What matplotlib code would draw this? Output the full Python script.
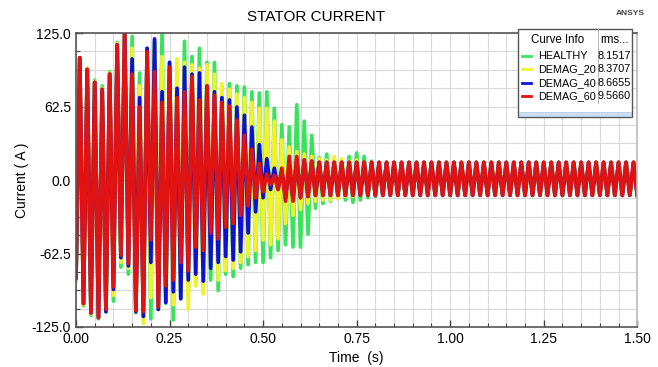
import numpy as np
import matplotlib.pyplot as plt
from matplotlib.patches import Rectangle
from matplotlib.lines import Line2D

plt.rcParams['font.family'] = ['Liberation Sans', 'DejaVu Sans']

# 50 Hz supply -> one peak every half cycle
half_period = 0.01

names = ['HEALTHY', 'DEMAG_20', 'DEMAG_40', 'DEMAG_60']
rms_vals = ['8.1517', '8.3707', '8.6655', '9.5660']
colors = ['#3be35c', '#f2f22c', '#0b12d4', '#e11212']

# positive peaks at t = 0.01, 0.03, ... 0.79
healthy_hi = [104, 95, 85, 80, 92, 117, 124, 122, 91, 112, 118, 126, 100, 88, 118, 105,
              112, 100, 100, 79, 82, 80, 79, 75, 74, 75, 61, 47, 45, 64, 50, 38,
              19, 22, 18, 15, 20, 23, 20, 16]
demag20_hi = [104, 95, 84, 78, 91, 116, 125, 112, 80, 110, 115, 105, 98, 103, 100, 98,
              95, 98, 90, 82, 77, 73, 70, 66, 61, 61, 50, 34, 28, 24, 22, 20,
              18, 17, 20, 18, 16, 17, 15, 15]
demag40_hi = [104, 94, 83, 77, 90, 115, 126, 103, 70, 112, 120, 75, 100, 78, 96, 90,
              91, 80, 75, 70, 68, 62, 55, 45, 30, 18, 10, 8, 12, 18, 17, 16,
              15, 15, 15, 15, 15, 15, 15, 15]
demag60_hi = [104, 94, 83, 77, 90, 115, 125, 90, 62, 109, 92, 66, 96, 70, 75, 88,
              68, 80, 72, 66, 63, 51, 38, 26, 14, 5, 4, 10, 20, 20, 17, 16,
              15, 15, 15, 15, 15, 15, 15, 15]

# negative peaks at t = 0.00, 0.02, ... 0.80
healthy_lo = [-85, -107, -115, -118, -112, -103, -74, -80, -113, -116, -118, -110, -105, -119, -100, -95,
              -87, -90, -85, -94, -80, -82, -75, -72, -70, -70, -66, -60, -55, -57, -57, -46,
              -24, -20, -18, -15, -17, -19, -17, -15, -14]
demag20_lo = [-84, -106, -114, -117, -111, -98, -70, -75, -112, -122, -100, -109, -100, -106, -98, -110,
              -90, -97, -70, -85, -77, -75, -70, -65, -60, -51, -55, -50, -37, -30, -25, -20,
              -18, -17, -17, -16, -14, -14, -13, -13, -13]
demag40_lo = [-83, -105, -113, -117, -112, -93, -66, -73, -112, -116, -70, -110, -104, -95, -101, -85,
              -80, -86, -75, -70, -65, -68, -61, -45, -27, -15, -8, -8, -15, -17, -15, -14,
              -13, -13, -13, -13, -13, -13, -13, -13, -13]
demag60_lo = [-83, -105, -113, -117, -110, -91, -64, -71, -111, -112, -51, -108, -90, -85, -70, -77,
              -57, -60, -45, -50, -40, -37, -30, -22, -15, -10, -4, -8, -18, -18, -15, -14,
              -13, -13, -13, -13, -13, -13, -13, -13, -13]

# steady state after 0.8 s, same for all four curves
steady_hi = 15
steady_lo = -13

series_hi = [healthy_hi, demag20_hi, demag40_hi, demag60_hi]
series_lo = [healthy_lo, demag20_lo, demag40_lo, demag60_lo]


def peaks_to_line(hi, lo):
    n_tail = 35
    hi_all = hi + [steady_hi] * n_tail
    lo_all = lo + [steady_lo] * n_tail
    t_lo = np.arange(len(lo_all)) * 2 * half_period
    t_hi = half_period + np.arange(len(hi_all)) * 2 * half_period
    t = np.concatenate([t_lo, t_hi])
    y = np.concatenate([lo_all, hi_all])
    order = np.argsort(t)
    return t[order], y[order]


fig = plt.figure(figsize=(6.58, 3.67), dpi=100)
ax = fig.add_axes([0.1155, 0.109, 0.853, 0.801])

for hi, lo, c in zip(series_hi, series_lo, colors):
    t, y = peaks_to_line(hi, lo)
    ax.plot(t, y, color=c, lw=2.7, solid_joinstyle='round')

ax.set_xlim(0, 1.5)
ax.set_ylim(-125, 125)
ax.set_xticks([0, 0.25, 0.5, 0.75, 1.0, 1.25, 1.5])
ax.set_xticks(np.arange(0, 1.5001, 0.05), minor=True)
ax.set_yticks([-125, -62.5, 0, 62.5, 125])
ax.set_yticks(np.arange(-125, 125.01, 15.625), minor=True)
ax.xaxis.set_major_formatter(plt.FormatStrFormatter('%.2f'))
ax.yaxis.set_major_formatter(plt.FormatStrFormatter('%.1f'))
ax.tick_params(which='both', direction='in', colors='#444444', labelcolor='black', labelsize=10)
ax.tick_params(which='major', length=5, width=1)
ax.tick_params(which='minor', length=3, width=0.8)
ax.grid(which='both', color='#d9d9d9', lw=0.8)
ax.set_axisbelow(True)
for s in ax.spines.values():
    s.set_color('#555555')
    s.set_linewidth(1.2)
ax.spines['right'].set_color('#bbbbbb')

ax.set_xlabel('Time  (s)', fontsize=10)
ax.set_ylabel('Current ( A )', fontsize=10, labelpad=2)
fig.text(0.48, 0.955, 'STATOR CURRENT', ha='center', va='center', fontsize=11)
fig.text(0.98, 0.962, 'ANSYS', ha='right', va='center', fontsize=6, fontweight='bold', color='#444444')

# legend table in the top right corner
W, H = 658.0, 367.0
x0, x1, xdiv = 518, 632, 598
y_top, y_bot = 29, 117
fig.patches.append(Rectangle((x0 / W, 1 - y_bot / H), (x1 - x0) / W, (y_bot - y_top) / H,
                             transform=fig.transFigure, facecolor='white', edgecolor='#555555',
                             lw=1.0, zorder=5))
fig.lines.append(Line2D([xdiv / W, xdiv / W], [1 - y_top / H, 1 - 103 / H],
                        transform=fig.transFigure, color='#aaaaaa', lw=0.6, zorder=6))
fig.patches.append(Rectangle((x0 / W + 0.002, 1 - 116 / H), (x1 - x0) / W - 0.004, 4 / H,
                             transform=fig.transFigure, facecolor='#c9def2', edgecolor='#a9c4e0',
                             lw=0.5, zorder=6))
fig.text(558 / W, 1 - 40 / H, 'Curve Info', ha='center', va='center', fontsize=8.3, zorder=7)
fig.text(600 / W, 1 - 40 / H, 'rms...', ha='left', va='center', fontsize=8.3, zorder=7)
row_y = [56, 69, 83, 96]
for name, val, c, ry in zip(names, rms_vals, colors, row_y):
    fig.lines.append(Line2D([522 / W, 531 / W], [1 - ry / H, 1 - ry / H], transform=fig.transFigure,
                            color=c, lw=2, zorder=7))
    fig.text(538 / W, 1 - ry / H, name, ha='left', va='center', fontsize=7.8, zorder=7)
    fig.text(631 / W, 1 - ry / H, val, ha='right', va='center', fontsize=7.8, zorder=7)

fig.savefig('out.png', dpi=100)
